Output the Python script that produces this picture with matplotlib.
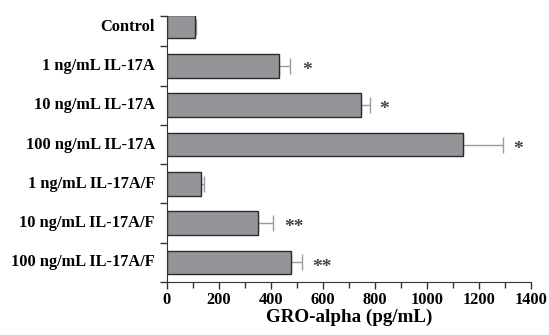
import matplotlib
matplotlib.use("Agg")
import matplotlib.pyplot as plt
import numpy as np

# data (top to bottom)
groups = ["Control", "1 ng/mL IL-17A", "10 ng/mL IL-17A", "100 ng/mL IL-17A",
          "1 ng/mL IL-17A/F", "10 ng/mL IL-17A/F", "100 ng/mL IL-17A/F"]
means = [108, 432, 748, 1138, 133, 351, 477]
errs = [4, 41, 32, 155, 9, 58, 44]
marks = ["", "*", "*", "*", "", "**", "**"]
mark_x = [0, 538, 837, 1352, 0, 490, 595]

plt.rcParams["font.family"] = ["Liberation Serif", "DejaVu Serif"]
plt.rcParams["font.weight"] = "bold"

fig = plt.figure(figsize=(5.49, 3.35), dpi=100)
ax = fig.add_axes([0.304, 0.158, 0.663, 0.794])

n = len(groups)
ypos = np.arange(n)[::-1]  # Control at top

ax.barh(ypos, means, height=0.6, color="#939598", edgecolor="#2b2b2b", linewidth=1.0, zorder=2)
ax.errorbar(means, ypos, xerr=[np.zeros(n), errs], fmt="none", ecolor="#9a9a9a",
            elinewidth=1.0, capsize=6, capthick=1.0, zorder=1)

for y, m, x in zip(ypos, marks, mark_x):
    if m:
        ax.text(x, y - 0.12, m, ha="center", va="center", fontsize=14, color="#444444")

ax.set_xlim(0, 1400)
ax.set_ylim(-0.5, 6.27)
ax.set_xticks(np.arange(0, 1401, 200))
ax.set_xticks(np.arange(100, 1400, 200), minor=True)
ax.tick_params(axis="x", which="both", direction="out", labelsize=11.8, width=1,
               color="#333333", pad=2)
ax.tick_params(axis="x", which="major", length=5)
ax.tick_params(axis="x", which="minor", length=4)

# category labels placed at bar centres, ticks at slot boundaries
ax.set_yticks(list(np.arange(-0.5, 6.0, 1.0)) + [6.27])
ax.set_yticklabels([])
ax.tick_params(axis="y", direction="out", length=5, width=1, color="#333333")
for y, g in zip(ypos, groups):
    ax.text(-0.033, y, g, transform=ax.get_yaxis_transform(), ha="right", va="center",
            fontsize=11.8, fontweight="bold")

for lbl in ax.get_xticklabels():
    lbl.set_fontweight("bold")

ax.spines["top"].set_visible(False)
ax.spines["right"].set_visible(False)
ax.spines["left"].set_color("#333333")
ax.spines["bottom"].set_color("#333333")

ax.set_xlabel("GRO-alpha (pg/mL)", fontsize=13.7, fontweight="bold", labelpad=1)

fig.savefig("out.png", dpi=100)
